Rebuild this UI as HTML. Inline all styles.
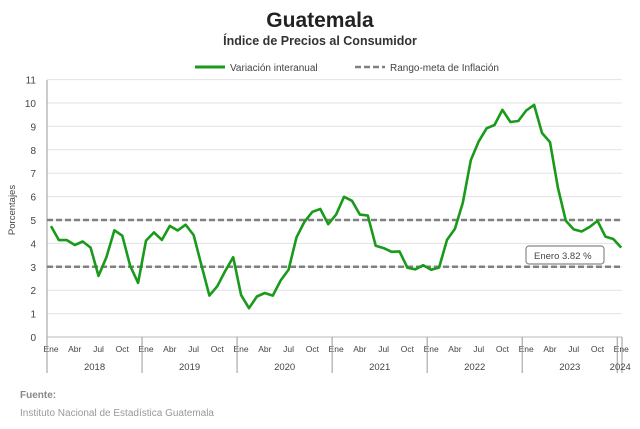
<!DOCTYPE html>
<html><head><meta charset="utf-8"><style>
body{margin:0;background:#fff;font-family:"Liberation Sans",sans-serif}
</style></head><body>
<svg id="s" width="640" height="424" xmlns="http://www.w3.org/2000/svg" font-family="Liberation Sans, sans-serif">
<text x="320" y="27" text-anchor="middle" font-size="21" font-weight="bold" fill="#222">Guatemala</text>
<text x="320" y="45" text-anchor="middle" font-size="12.5" font-weight="bold" fill="#333">Índice de Precios al Consumidor</text>
<line x1="195" y1="67" x2="225" y2="67" stroke="#1a9a1a" stroke-width="3"/>
<text x="230" y="71" font-size="10" fill="#444">Variación interanual</text>
<line x1="355" y1="67" x2="385" y2="67" stroke="#808080" stroke-width="2.5" stroke-dasharray="6,3"/>
<text x="390" y="71" font-size="10" fill="#444">Rango-meta de Inflación</text>
<text transform="translate(15,210) rotate(-90)" text-anchor="middle" font-size="9.5" fill="#444">Porcentajes</text>
<text x="20" y="398" font-size="10" font-weight="bold" fill="#888">Fuente:</text>
<text x="20" y="416" font-size="10" fill="#999">Instituto Nacional de Estadística Guatemala</text>
<g id="g"></g>
</svg>
<script>
var g=document.getElementById('g'),h='';
function Y(v){return 337-v*23.4}
var L=47,R=622;
for(var i=1;i<=11;i++){h+='<line x1="'+L+'" x2="'+R+'" y1="'+Y(i)+'" y2="'+Y(i)+'" stroke="#e2e2e2" stroke-width="1"/>';}
for(var i=0;i<=11;i++){h+='<text x="36" y="'+(Y(i)+4)+'" text-anchor="end" font-size="10" fill="#444">'+i+'</text>';}
h+='<line x1="'+L+'" x2="'+L+'" y1="80" y2="337" stroke="#999"/>';
h+='<line x1="'+L+'" x2="'+R+'" y1="337" y2="337" stroke="#bbb"/>';
h+='<line x1="'+L+'" x2="'+R+'" y1="'+Y(5)+'" y2="'+Y(5)+'" stroke="#808080" stroke-width="2.5" stroke-dasharray="6,3"/>';
h+='<line x1="'+L+'" x2="'+R+'" y1="'+Y(3)+'" y2="'+Y(3)+'" stroke="#808080" stroke-width="2.5" stroke-dasharray="6,3"/>';
var d=[4.74,4.14,4.14,3.93,4.08,3.82,2.61,3.41,4.56,4.33,3.04,2.31,
4.12,4.47,4.15,4.75,4.55,4.80,4.36,3.06,1.77,2.17,2.82,3.41,
1.79,1.23,1.73,1.88,1.77,2.42,2.88,4.26,4.92,5.35,5.47,4.82,
5.23,5.99,5.82,5.23,5.19,3.90,3.80,3.64,3.66,2.96,2.89,3.07,
2.87,2.97,4.15,4.62,5.74,7.55,8.36,8.92,9.06,9.71,9.19,9.23,
9.68,9.92,8.72,8.33,6.38,4.97,4.60,4.51,4.70,4.96,4.29,4.19,3.82];
var sp=7.92,x0=51,p=[];
d.forEach(function(v,i){p.push((x0+i*sp).toFixed(1)+','+Y(v).toFixed(1))});
h+='<polyline points="'+p.join(' ')+'" fill="none" stroke="#1a9a1a" stroke-width="2.6" stroke-linejoin="round"/>';
var m=['Ene','Abr','Jul','Oct'];
for(var yr=0;yr<6;yr++){for(var k=0;k<4;k++){var x=x0+(yr*12+k*3)*sp;h+='<text x="'+x+'" y="352" text-anchor="middle" font-size="8.5" fill="#444">'+m[k]+'</text>';}
var sx=x0-4+yr*12*sp;h+='<line x1="'+(yr==0?L:sx)+'" x2="'+(yr==0?L:sx)+'" y1="337" y2="373" stroke="#999"/>';
h+='<text x="'+(x0+(yr*12+5.5)*sp)+'" y="370" text-anchor="middle" font-size="9.5" fill="#444">'+(2018+yr)+'</text>';}
var xe=x0+72*sp;h+='<text x="'+xe+'" y="352" text-anchor="middle" font-size="8.5" fill="#444">Ene</text>';
h+='<line x1="'+(xe-4)+'" x2="'+(xe-4)+'" y1="337" y2="373" stroke="#999"/><line x1="'+R+'" x2="'+R+'" y1="337" y2="373" stroke="#999"/>';
h+='<text x="'+(xe-1)+'" y="370" text-anchor="middle" font-size="9.5" fill="#444">2024</text>';
h+='<rect x="526" y="246" width="78" height="18" rx="3" fill="#fff" stroke="#888" stroke-width="1.2"/>';
h+='<text x="534" y="259" font-size="9.5" fill="#444">Enero 3.82 %</text>';
g.innerHTML=h;
</script>
</body></html>
